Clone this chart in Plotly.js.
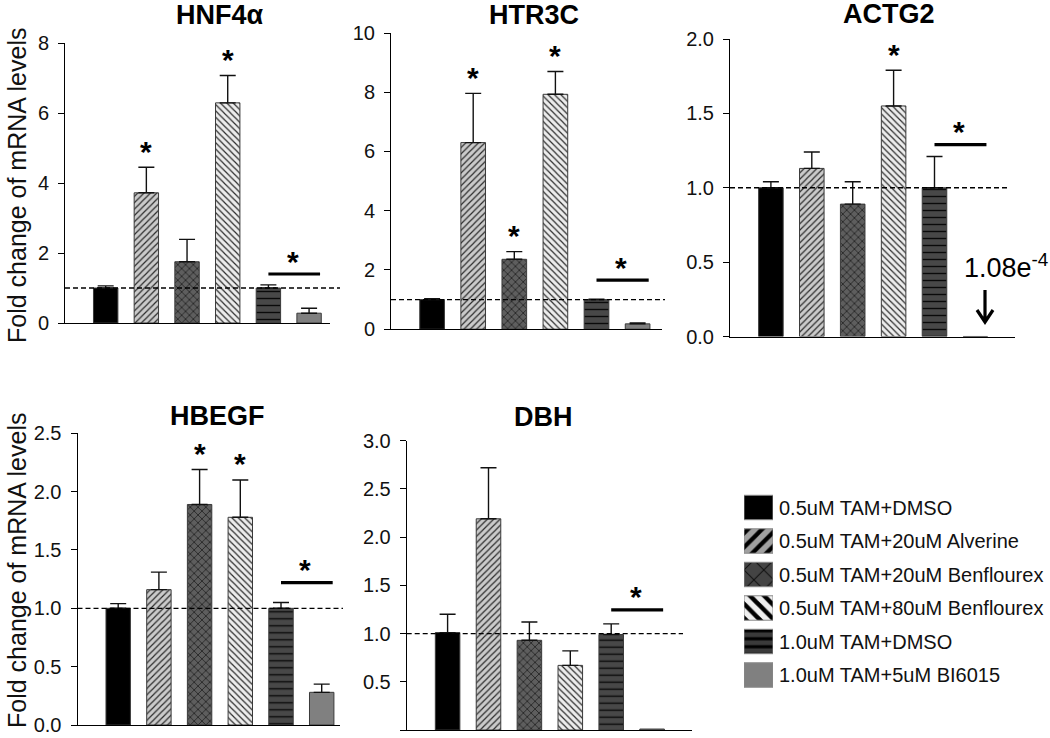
<!DOCTYPE html>
<html>
<head>
<meta charset="utf-8">
<script src="https://cdn.plot.ly/plotly-3.0.1.min.js"></script>
<style>html,body{margin:0;padding:0;background:#fff;}#chart{width:1050px;height:738px;}</style>
</head>
<body>
<div id="chart"></div>
<script>
// ---------------- DATA ----------------
const categories = [
  '0.5uM TAM+DMSO',
  '0.5uM TAM+20uM Alverine',
  '0.5uM TAM+20uM Benflourex',
  '0.5uM TAM+80uM Benflourex',
  '1.0uM TAM+DMSO',
  '1.0uM TAM+5uM BI6015'
];
const genes = ['HNF4α', 'HTR3C', 'ACTG2', 'HBEGF', 'DBH'];

const hnf4aMean = [1.00, 3.72, 1.75, 6.29, 1.00, 0.28];
const hnf4aErr  = [0.06, 0.73, 0.64, 0.78, 0.09, 0.14];
const htr3cMean = [1.00, 6.30, 2.36, 7.93, 1.00, 0.18];
const htr3cErr  = [0.03, 1.66, 0.26, 0.77, 0.01, 0.03];
const actg2Mean = [1.00, 1.13, 0.89, 1.55, 1.00, 0.000108];
const actg2Err  = [0.04, 0.11, 0.15, 0.24, 0.21, 0.00];
const hbegfMean = [1.00, 1.16, 1.89, 1.78, 1.00, 0.28];
const hbegfErr  = [0.04, 0.15, 0.30, 0.32, 0.05, 0.07];
const dbhMean   = [1.01, 2.19, 0.93, 0.67, 0.99, 0.01];
const dbhErr    = [0.19, 0.53, 0.19, 0.15, 0.11, 0.00];

// bars marked significant (* above the bar), by category index
const hnf4aStars = [1, 3];
const htr3cStars = [1, 2, 3];
const actg2Stars = [3];
const hbegfStars = [2, 3];
const dbhStars   = [];

// level of the significance bracket (1.0uM DMSO vs BI6015)
const bracketLevel = [1.40, 1.66, 1.29, 1.22, 1.245];
const referenceLevel = 1.0;
const yTicks = [2, 2, 0.5, 0.5, 0.5];
const yMax   = [8, 10, 2.0, 2.5, 3.0];

const means = [hnf4aMean, htr3cMean, actg2Mean, hbegfMean, dbhMean];
const errs  = [hnf4aErr, htr3cErr, actg2Err, hbegfErr, dbhErr];
const stars = [hnf4aStars, htr3cStars, actg2Stars, hbegfStars, dbhStars];

// ---------------- STYLE / GEOMETRY ----------------
const W = 1050, H = 738;
const PX = p => p / W;
const PY = p => 1 - p / H;
const FONT = 'Liberation Sans, Arial, sans-serif';

// pixel geometry of each panel
const geo = [
  {ax0: 65,    axEnd: 330,  dashEnd: 340,  yTop: 43,    yBot: 323,   sp: 40.68, fmt: 'd',  titleX: 220,   titleY: 15},
  {ax0: 391,   axEnd: 662,  dashEnd: 665,  yTop: 33,    yBot: 329.2, sp: 41.1,  fmt: 'd',  titleX: 533.5, titleY: 15},
  {ax0: 730,   axEnd: 1015, dashEnd: 1007, yTop: 39,    yBot: 336.5, sp: 40.9,  fmt: '.1f',titleX: 889,   titleY: 14},
  {ax0: 77.5,  axEnd: 340,  dashEnd: 343,  yTop: 433.3, yBot: 725,   sp: 40.7,  fmt: '.1f',titleX: 217.5, titleY: 416},
  {ax0: 406.7, axEnd: 692,  dashEnd: 683,  yTop: 440.7, yBot: 730,   sp: 40.9,  fmt: '.1f',titleX: 543,   titleY: 416.5}
];

const barStyle = [
  {color: '#000000', shape: '',  fg: '#000000', bg: '#000000', size: 6, sol: 0.3},
  {color: '#c8c8c8', shape: '/', fg: '#2a2a2a', bg: '#cacaca', size: 4.5, sol: 0.26},
  {color: '#555555', shape: 'x', fg: '#111111', bg: '#5e5e5e', size: 5.5, sol: 0.22},
  {color: '#ebebeb', shape: '\\',fg: '#2a2a2a', bg: '#ececec', size: 4.5, sol: 0.26},
  {color: '#444444', shape: '-', fg: '#0a0a0a', bg: '#484848', size: 7, sol: 0.2},
  {color: '#808080', shape: '',  fg: '#808080', bg: '#808080', size: 6, sol: 0.3}
];
const legendStyle = [
  {shape: '',  fg: '#000000', bg: '#000000', size: 8,  sol: 0.3},
  {shape: '/', fg: '#000000', bg: '#a0a0a0', size: 10, sol: 0.42},
  {shape: 'x', fg: '#111111', bg: '#444444', size: 14, sol: 0.15},
  {shape: '\\',fg: '#000000', bg: '#efefef', size: 10, sol: 0.45},
  {shape: '-', fg: '#000000', bg: '#3a3a3a', size: 8,  sol: 0.4},
  {shape: '',  fg: '#808080', bg: '#808080', size: 8,  sol: 0.3}
];

const traces = [];
const layout = {
  width: W, height: H,
  margin: {l: 0, r: 0, t: 0, b: 0},
  paper_bgcolor: '#ffffff', plot_bgcolor: 'rgba(0,0,0,0)',
  showlegend: false,
  barmode: 'overlay',
  font: {family: FONT, color: '#000'},
  shapes: [], annotations: []
};

genes.forEach((gene, g) => {
  const G = geo[g];
  const sfx = g === 0 ? '' : String(g + 1);
  const xa = 'x' + sfx, ya = 'y' + sfx;
  categories.forEach((cat, i) => {
    const st = barStyle[i];
    traces.push({
      type: 'bar', xaxis: xa, yaxis: ya,
      x: [cat], y: [means[g][i]], width: 0.6,
      name: cat, showlegend: false, hoverinfo: 'skip',
      marker: {
        color: st.color,
        line: {color: '#3a3a3a', width: 1},
        pattern: st.shape ? {shape: st.shape, fgcolor: st.fg, bgcolor: st.bg, size: st.size, solidity: st.sol, fillmode: 'replace'} : {shape: ''}
      },
      error_y: {type: 'data', symmetric: false, array: [errs[g][i]], arrayminus: [0],
                visible: errs[g][i] > 0, color: '#111', thickness: 1.4, width: 8}
    });
  });
  const xEnd = (G.axEnd - G.ax0) / G.sp - 1;
  layout['xaxis' + sfx] = {
    domain: [PX(G.ax0), PX(G.axEnd)], anchor: ya,
    type: 'category', categoryorder: 'array', categoryarray: categories,
    range: [-1, xEnd], showline: true, linecolor: '#000', linewidth: 1,
    showticklabels: false, ticks: '', showgrid: false, zeroline: false, fixedrange: true
  };
  layout['yaxis' + sfx] = {
    domain: [PY(G.yBot), PY(G.yTop)], anchor: xa,
    range: [0, yMax[g]], dtick: yTicks[g], tick0: 0, tickformat: G.fmt,
    showline: true, linecolor: '#000', linewidth: 1,
    ticks: 'outside', ticklen: 6, tickcolor: '#000', tickwidth: 1,
    ticklabelstandoff: 5,
    tickfont: {family: FONT, size: 20, color: '#111'},
    showgrid: false, zeroline: false, fixedrange: true
  };
  // reference dashed line at 1.0
  layout.shapes.push({type: 'line', xref: 'paper', yref: ya,
    x0: PX(G.ax0), x1: PX(G.dashEnd), y0: referenceLevel, y1: referenceLevel,
    line: {color: '#000', width: 1.3, dash: '5px,3px'}});
  // significance bracket
  layout.shapes.push({type: 'line', xref: xa, yref: ya,
    x0: 4.0, x1: 5.27, y0: bracketLevel[g], y1: bracketLevel[g],
    line: {color: '#000', width: 3.2}});
  layout.annotations.push({xref: xa, yref: ya, x: 4.6, y: bracketLevel[g], yshift: 13,
    text: '*', showarrow: false, yanchor: 'middle', font: {family: FONT, size: 30, color: '#000', weight: 'bold'}});
  // stars over bars
  stars[g].forEach(i => {
    layout.annotations.push({xref: xa, yref: ya, x: i, y: means[g][i] + errs[g][i], yshift: 16,
      text: '*', showarrow: false, yanchor: 'middle', font: {family: FONT, size: 30, color: '#000', weight: 'bold'}});
  });
  // panel title
  layout.annotations.push({xref: 'paper', yref: 'paper', x: PX(G.titleX), y: PY(G.titleY),
    text: '<b>' + gene + '</b>', showarrow: false, xanchor: 'center', yanchor: 'middle',
    font: {family: FONT, size: 27, color: '#000'}});
});

// tiny ACTG2 value label + arrow
(function () {
  const v = actg2Mean[5].toExponential(2).split('e');
  layout.annotations.push({xref: 'paper', yref: 'paper', x: PX(962), y: PY(266),
    text: v[0] + 'e<sup>' + String(parseInt(v[1], 10)) + '</sup>', showarrow: false,
    xanchor: 'left', yanchor: 'middle', font: {family: FONT, size: 27, color: '#000'}});
  const ax = PX(985), t = PY(290), b = PY(322), hl = PX(977), hr = PX(993), hy = PY(310);
  layout.shapes.push({type: 'path', xref: 'paper', yref: 'paper',
    path: `M ${ax} ${t} L ${ax} ${b} M ${hl} ${hy} L ${ax} ${b} L ${hr} ${hy}`,
    line: {color: '#000', width: 3.2}});
})();

// y-axis titles
[186, 571].forEach(yc => {
  layout.annotations.push({xref: 'paper', yref: 'paper', x: PX(17), y: PY(yc),
    text: 'Fold change of mRNA levels', textangle: -90, showarrow: false,
    xanchor: 'center', yanchor: 'middle', font: {family: FONT, size: 25, color: '#111'}});
});

// legend drawn as a small bar panel with patterned swatches
categories.forEach((cat, i) => {
  const st = legendStyle[i];
  traces.push({
    type: 'bar', orientation: 'h', xaxis: 'x6', yaxis: 'y6',
    x: [1], y: [cat], width: 0.73, name: cat, showlegend: false, hoverinfo: 'skip',
    marker: {color: st.bg, line: {color: '#8a8a8a', width: 1},
      pattern: st.shape ? {shape: st.shape, fgcolor: st.fg, bgcolor: st.bg, size: st.size, solidity: st.sol, fillmode: 'replace'} : {shape: ''}}
  });
  layout.annotations.push({xref: 'paper', yref: 'y6', x: PX(777), y: i,
    text: cat, showarrow: false, xanchor: 'left', yanchor: 'middle',
    font: {family: FONT, size: 20, color: '#111'}});
});
layout.xaxis6 = {domain: [PX(744), PX(773)], anchor: 'y6', range: [0, 1], visible: false, fixedrange: true};
layout.yaxis6 = {domain: [PY(691.75), PY(490.75)], anchor: 'x6', type: 'category',
  categoryorder: 'array', categoryarray: categories, range: [5.5, -0.5], visible: false, fixedrange: true};

Plotly.newPlot('chart', traces, layout, {displayModeBar: false, staticPlot: true});
</script>
</body>
</html>
